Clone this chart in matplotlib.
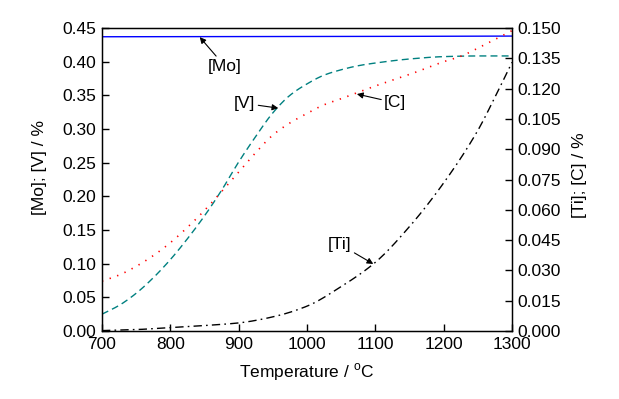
import matplotlib
matplotlib.use('Agg')
import matplotlib.pyplot as plt
import numpy as np

plt.rcParams['font.family'] = ['Liberation Sans', 'DejaVu Sans']
plt.rcParams['font.size'] = 12.5

# left axis: [Mo], [V] in %
t_mo = [700, 1000, 1300]
mo = [0.437, 0.4373, 0.438]

t_v = [700, 725, 750, 775, 800, 825, 850, 875, 900, 925, 950, 975, 1000,
       1025, 1050, 1075, 1100, 1150, 1200, 1250, 1300]
v = [0.025, 0.038, 0.056, 0.079, 0.106, 0.137, 0.171, 0.209, 0.251, 0.289,
     0.324, 0.350, 0.367, 0.380, 0.388, 0.394, 0.398, 0.404, 0.4075, 0.4085, 0.4085]

# right axis: [Ti], [C] in %
t_c = [700, 725, 750, 775, 800, 825, 850, 875, 900, 925, 950, 975, 1000,
       1025, 1050, 1100, 1150, 1200, 1225, 1250, 1275, 1300]
c = [0.0247, 0.0277, 0.0320, 0.0373, 0.0437, 0.0513, 0.0597, 0.0690, 0.0787,
     0.0883, 0.0970, 0.1030, 0.1077, 0.1120, 0.1150, 0.1213, 0.1270, 0.1333,
     0.1360, 0.1400, 0.1443, 0.1487]

t_ti = [700, 750, 800, 850, 900, 950, 1000, 1050, 1100, 1150, 1200, 1250, 1275, 1300]
ti = [0.0002, 0.0007, 0.0017, 0.0027, 0.0040, 0.0070, 0.0123, 0.0220, 0.0340,
      0.0517, 0.0733, 0.0993, 0.1157, 0.1330]


def pchip(x, y, xn):
    # monotone cubic (Fritsch-Carlson) so the curves come out smooth
    x = np.asarray(x, float); y = np.asarray(y, float)
    h = np.diff(x); d = np.diff(y) / h
    m = np.zeros_like(y)
    for k in range(1, len(x) - 1):
        if d[k - 1] * d[k] > 0:
            w1 = 2 * h[k] + h[k - 1]; w2 = h[k] + 2 * h[k - 1]
            m[k] = (w1 + w2) / (w1 / d[k - 1] + w2 / d[k])
    m[0] = d[0]; m[-1] = d[-1]
    i = np.clip(np.searchsorted(x, xn, side='right') - 1, 0, len(x) - 2)
    s = (xn - x[i]) / h[i]
    h00 = 2 * s**3 - 3 * s**2 + 1; h10 = s**3 - 2 * s**2 + s
    h01 = -2 * s**3 + 3 * s**2; h11 = s**3 - s**2
    return h00 * y[i] + h10 * h[i] * m[i] + h01 * y[i + 1] + h11 * h[i] * m[i + 1]


tt = np.linspace(700, 1300, 601)

fig = plt.figure(figsize=(6.19, 3.99), dpi=100)
ax = fig.add_axes([102 / 619, 1 - 331 / 399, 410 / 619, 303 / 399])
ax2 = ax.twinx()

ax.plot(tt, pchip(t_mo, mo, tt), color='#0000ff', lw=1.0)
ax.plot(tt, pchip(t_v, v, tt), color='#008080', lw=1.0, dashes=(5, 3))
ax2.plot(tt, pchip(t_c, c, tt), color='#ff0000', lw=1.2, dashes=(0.8, 4))
ax2.plot(tt, pchip(t_ti, ti, tt), color='black', lw=1.0, dashes=(6, 3, 1.2, 3))

ax.set_xlim(700, 1300)
ax.set_ylim(0, 0.45)
ax2.set_ylim(0, 0.150)
ax.set_xticks(np.arange(700, 1301, 100))
ax.set_yticks(np.arange(0, 0.451, 0.05))
ax.set_yticklabels(['%.2f' % y for y in np.arange(0, 0.451, 0.05)])
ax2.set_yticks(np.arange(0, 0.1501, 0.015))
ax2.set_yticklabels(['%.3f' % y for y in np.arange(0, 0.1501, 0.015)])

ax.tick_params(direction='in', length=5, width=1, labelsize=12.5, pad=4)
ax2.tick_params(direction='in', length=5, width=1, labelsize=12.5, pad=4)
for sp in ax2.spines.values():
    sp.set_linewidth(1)

ax.set_xlabel('Temperature / $^{\\mathregular{o}}$C', fontsize=12.5)
ax.set_ylabel('[Mo]; [V] / %', fontsize=12.5)
ax2.set_ylabel('[Ti]; [C] / %', fontsize=12.5)
ax.xaxis.set_label_coords(0.5, -0.10)
ax.yaxis.set_label_coords(-0.134, 0.538)
ax2.yaxis.set_label_coords(1.146, 0.515)

arrow = dict(arrowstyle='-|>', color='black', lw=0.8, mutation_scale=9, shrinkA=0, shrinkB=0)
ax.annotate('[Mo]', xy=(843, 0.4365), xytext=(880, 0.393), ha='center', va='center',
            fontsize=12.5, arrowprops=arrow)
ax.annotate('[V]', xy=(958, 0.331), xytext=(909, 0.338), ha='center', va='center',
            fontsize=12.5, arrowprops=arrow)
ax2.annotate('[C]', xy=(1073, 0.1173), xytext=(1129, 0.113), ha='center', va='center',
             fontsize=12.5, arrowprops=arrow)
ax2.annotate('[Ti]', xy=(1097, 0.0332), xytext=(1048, 0.0429), ha='center', va='center',
             fontsize=12.5, arrowprops=arrow)

fig.savefig('out.png', dpi=100)
